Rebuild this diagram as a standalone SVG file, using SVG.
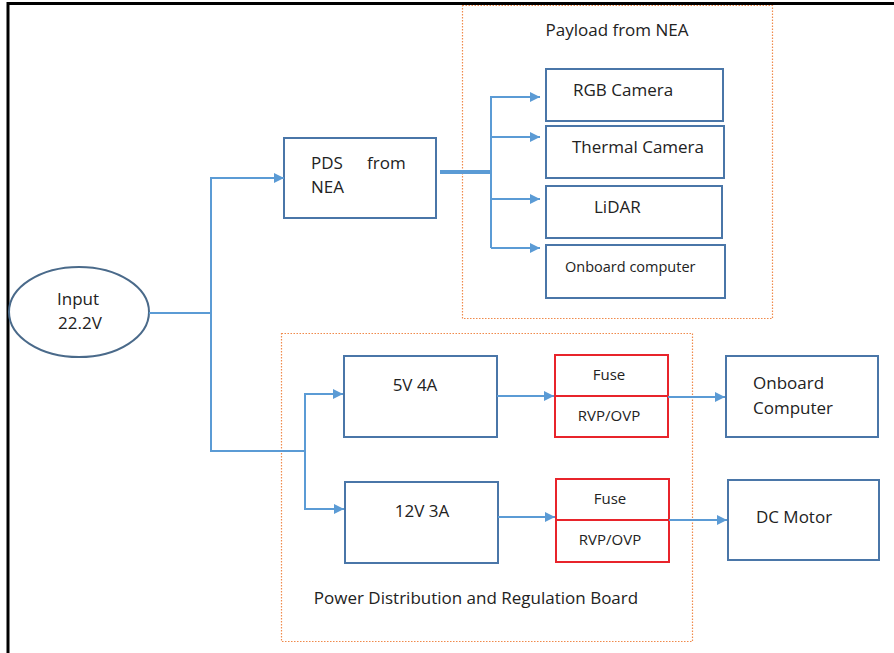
<svg xmlns="http://www.w3.org/2000/svg" width="894" height="653" viewBox="0 0 894 653">
<defs>
<marker id="arr" viewBox="0 0 10 10" refX="10" refY="5" markerWidth="10" markerHeight="10" markerUnits="userSpaceOnUse" orient="auto">
<path d="M0,0 L10,5 L0,10 z" fill="#5B9BD5"/>
</marker>
</defs>
<style>
text{font-family:"Open Sans","Liberation Sans",sans-serif;fill:#222;font-size:17px}
.box{fill:#fff;stroke:#4A76A8;stroke-width:2}
.red{fill:#fff;stroke:#E8242B;stroke-width:2}
.grp{fill:none;stroke:#F08A4B;stroke-width:1.2;stroke-dasharray:1.5 1.5}
.c{fill:none;stroke:#5B9BD5;stroke-width:2}
.sm{font-size:15px}
.xs{font-size:14.5px}
</style>
<rect width="894" height="653" fill="#fff"/>
<path d="M8,653 V3.5 H894" fill="none" stroke="#000" stroke-width="3"/>
<g id="payload-group">
<rect class="grp" x="462.5" y="5.5" width="310" height="313"/>
<text x="617" y="36" text-anchor="middle">Payload from NEA</text>
</g>
<g id="pdrb-group">
<rect class="grp" x="281.5" y="333.5" width="411" height="308"/>
<text x="476" y="604" text-anchor="middle">Power Distribution and Regulation Board</text>
</g>
<g id="input">
<ellipse cx="79" cy="312" rx="70" ry="45" fill="#fff" stroke="#4A6A8A" stroke-width="2"/>
<text x="78" y="305" text-anchor="middle">Input</text>
<text x="80" y="329" text-anchor="middle">22.2V</text>
</g>
<g id="pds">
<rect class="box" x="284" y="138" width="152" height="80"/>
<text x="311" y="169">PDS</text>
<text x="367" y="169">from</text>
<text x="311" y="193">NEA</text>
</g>
<g id="rgb">
<rect class="box" x="546" y="69" width="177" height="52"/>
<text x="573" y="96">RGB Camera</text>
</g>
<g id="thermal">
<rect class="box" x="546" y="126" width="178" height="52"/>
<text x="572" y="153">Thermal Camera</text>
</g>
<g id="lidar">
<rect class="box" x="546" y="186" width="176" height="52"/>
<text x="594" y="213">LiDAR</text>
</g>
<g id="onboard-payload">
<rect class="box" x="546" y="245" width="179" height="53"/>
<text x="565" y="272" class="xs">Onboard computer</text>
</g>
<g id="v5">
<rect class="box" x="344" y="356" width="153" height="81"/>
<text x="415" y="391" text-anchor="middle">5V 4A</text>
</g>
<g id="v12">
<rect class="box" x="345" y="482" width="153" height="81"/>
<text x="422" y="517" text-anchor="middle">12V 3A</text>
</g>
<g id="fuse1">
<rect class="red" x="555" y="355" width="113" height="82"/>
<line x1="555" y1="396" x2="668" y2="396" stroke="#E8242B" stroke-width="2"/>
<text x="609" y="380" text-anchor="middle" class="sm">Fuse</text>
<text x="609" y="421" text-anchor="middle" class="sm">RVP/OVP</text>
</g>
<g id="fuse2">
<rect class="red" x="556" y="479" width="113" height="83"/>
<line x1="556" y1="520" x2="669" y2="520" stroke="#E8242B" stroke-width="2"/>
<text x="610" y="504" text-anchor="middle" class="sm">Fuse</text>
<text x="610" y="545" text-anchor="middle" class="sm">RVP/OVP</text>
</g>
<g id="onboard-computer">
<rect class="box" x="726" y="356" width="152" height="81"/>
<text x="753" y="389">Onboard</text>
<text x="753" y="414">Computer</text>
</g>
<g id="dc-motor">
<rect class="box" x="728" y="480" width="151" height="80"/>
<text x="794" y="523" text-anchor="middle">DC Motor</text>
</g>
<g id="connectors">
<path class="c" d="M149,313 H211"/>
<path class="c" d="M211,313 V178 H284" marker-end="url(#arr)"/>
<path class="c" d="M211,313 V451 H305" stroke="#8DB6E0"/>
<path class="c" d="M305,451 V394 H343" marker-end="url(#arr)"/>
<path class="c" d="M305,451 V509 H344" marker-end="url(#arr)"/>
<path d="M440,172 H491" fill="none" stroke="#5B9BD5" stroke-width="4"/>
<path class="c" d="M491,248 V97 H540" marker-end="url(#arr)"/>
<path class="c" d="M491,137 H540" marker-end="url(#arr)"/>
<path class="c" d="M491,199 H540" marker-end="url(#arr)"/>
<path class="c" d="M491,248 H540" marker-end="url(#arr)"/>
<path class="c" d="M497,396 H554" marker-end="url(#arr)"/>
<path class="c" d="M668,397 H725" marker-end="url(#arr)"/>
<path class="c" d="M498,517 H555" marker-end="url(#arr)"/>
<path class="c" d="M669,520 H727" marker-end="url(#arr)"/>
</g>
</svg>
